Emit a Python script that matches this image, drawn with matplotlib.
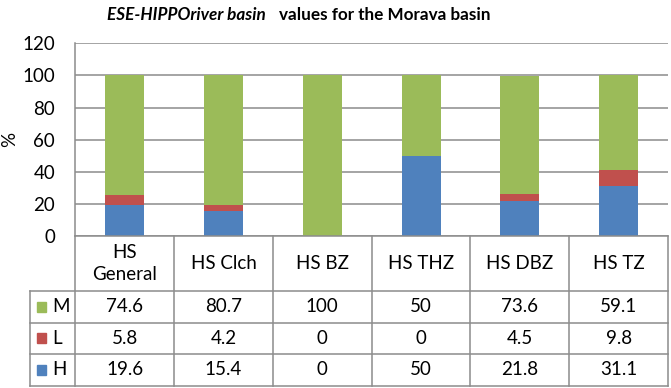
import matplotlib.pyplot as plt
from matplotlib.patches import Rectangle

plt.rcParams['font.family'] = ['Lato', 'DejaVu Sans']

# data
categories = ['HS\nGeneral', 'HS Clch', 'HS BZ', 'HS THZ', 'HS DBZ', 'HS TZ']
series_names = ['M', 'L', 'H']
h_vals = [19.6, 15.4, 0, 50, 21.8, 31.1]
l_vals = [5.8, 4.2, 0, 0, 4.5, 9.8]
m_vals = [74.6, 80.7, 100, 50, 73.6, 59.1]
y_ticks = [0, 20, 40, 60, 80, 100, 120]

c_h = '#4F81BD'
c_l = '#C0504D'
c_m = '#9BBB59'
grid_c = '#8C8C8C'
fs = 13.5

W, H = 671, 388
fig = plt.figure(figsize=(W / 100, H / 100), dpi=100)

# bar chart area
x0, x1 = 75.3, 668
y_top, y_zero = 43.3, 236
ax = fig.add_axes([x0 / W, 1 - y_zero / H, (x1 - x0) / W, (y_zero - y_top) / H])
x = list(range(len(categories)))
bw = 0.395
ax.bar(x, h_vals, bw, color=c_h, zorder=3)
bot = [a for a in h_vals]
ax.bar(x, l_vals, bw, bottom=bot, color=c_l, zorder=3)
bot = [a + b for a, b in zip(h_vals, l_vals)]
ax.bar(x, m_vals, bw, bottom=bot, color=c_m, zorder=3)

ax.set_xlim(-0.5, len(categories) - 0.5)
ax.set_ylim(0, 120)
ax.set_yticks(y_ticks)
ax.set_yticklabels([str(t) for t in y_ticks], fontsize=fs)
ax.set_xticks([])
ax.yaxis.grid(True, color=grid_c, lw=1.1, zorder=0)
ax.tick_params(axis='y', length=0, pad=14.5)
for s in ['top', 'right', 'bottom']:
    ax.spines[s].set_visible(False)
ax.spines['left'].set_color(grid_c)
ax.spines['left'].set_linewidth(1.1)

# y label
fig.text(10 / W, 1 - 139 / H, '%', fontsize=fs, rotation=90, ha='center', va='center')

# title (two parts: bold italic + bold)
fig.text(266 / W, 1 - 15 / H, 'ESE-HIPPOriver basin', fontsize=12.3, fontweight='bold',
         style='italic', ha='right', va='center')
fig.text(279 / W, 1 - 15 / H, 'values for the Morava basin', fontsize=12.3,
         fontweight='bold', ha='left', va='center')

# data table below the chart
tl = 29.7
t_bottom = 385.7
row_h = 31.6
head_h = 55 / row_h
label_w = (x0 - tl) / ((x1 - x0) / len(categories))
tax = fig.add_axes([tl / W, 1 - t_bottom / H, (x1 - tl) / W, (t_bottom - y_zero) / H])
tax.set_xlim(-0.5 - label_w, len(categories) - 0.5)
tax.set_ylim(0, 3 + head_h)
tax.axis('off')

lk = dict(color=grid_c, lw=1.1, clip_on=False)
top = 3 + head_h
right = len(categories) - 0.5
left = -0.5 - label_w
# horizontal lines
tax.plot([-0.5, right], [top, top], **lk)
for yy in [0, 1, 2, 3]:
    tax.plot([left, right], [yy, yy], **lk)
# vertical lines
for i in range(len(categories) + 1):
    tax.plot([i - 0.5, i - 0.5], [0, top], **lk)
tax.plot([left, left], [0, 3], **lk)

# header text
for i, c in enumerate(categories):
    tax.text(i, 3 + head_h / 2, c, ha='center', va='center', fontsize=fs,
             linespacing=1.3)

rows = [(series_names[0], m_vals, c_m), (series_names[1], l_vals, c_l),
        (series_names[2], h_vals, c_h)]
for r, (name, vals, col) in enumerate(rows):
    yc = 2.5 - r
    sq = 0.1
    tax.add_patch(Rectangle((left + 0.07, yc - 0.16), sq, 0.32, color=col, clip_on=False))
    tax.text(left + 0.23, yc, name, ha='left', va='center', fontsize=fs)
    for i, v in enumerate(vals):
        tax.text(i, yc, '{:g}'.format(v), ha='center', va='center', fontsize=fs)

fig.savefig('out.png', dpi=100)
